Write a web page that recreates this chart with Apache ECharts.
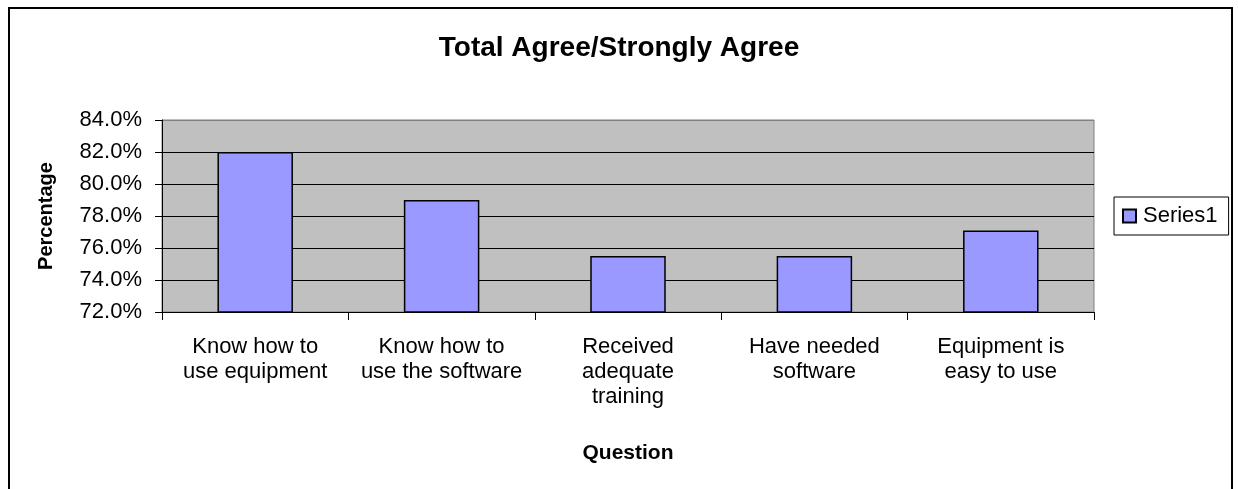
<!DOCTYPE html>
<html>
<head>
<meta charset="utf-8">
<script src="https://cdn.jsdelivr.net/npm/echarts@6/dist/echarts.min.js"></script>
<style>
html,body{margin:0;padding:0;background:#fff;}
#chart{width:1238px;height:489px;}
</style>
</head>
<body>
<div id="chart"></div>
<script>
const categories = ["Know how to\nuse equipment", "Know how to\nuse the software", "Received\nadequate\ntraining", "Have needed\nsoftware", "Equipment is\neasy to use"];
const series1 = [82.0, 79.0, 75.5, 75.5, 77.1];
const yTicks = {min: 72, max: 84, interval: 2};
const FONT = "'Liberation Sans', Arial, sans-serif";

const chart = echarts.init(document.getElementById('chart'), null, {renderer: 'canvas'});
chart.setOption({
  backgroundColor: '#ffffff',
  animation: false,
  textStyle: {fontFamily: FONT, color: '#000'},
  title: {
    text: 'Total Agree/Strongly Agree',
    left: 'center',
    top: 29,
    textStyle: {fontFamily: FONT, fontSize: 28, fontWeight: 'bold', color: '#000'}
  },
  graphic: [{
    type: 'rect',
    shape: {x: 9, y: 8, width: 1223, height: 520},
    style: {fill: 'none', stroke: '#000', lineWidth: 2},
    silent: true
  }],
  legend: {
    data: ['Series1'],
    left: 1114,
    top: 197,
    orient: 'vertical',
    padding: [8, 11, 8, 8],
    itemWidth: 13,
    itemHeight: 13,
    itemGap: 5,
    borderColor: '#000',
    borderWidth: 1,
    backgroundColor: '#fff',
    icon: 'rect',
    textStyle: {fontFamily: FONT, fontSize: 22, color: '#000', padding: [0, 0, 0, 2]}
  },
  grid: {
    left: 162, right: 144, top: 120, bottom: 177,
    show: true, backgroundColor: '#c0c0c0', borderColor: '#808080', borderWidth: 1
  },
  xAxis: {
    type: 'category',
    data: categories,
    name: 'Question',
    nameLocation: 'middle',
    nameGap: 131,
    nameTextStyle: {fontFamily: FONT, fontSize: 21, fontWeight: 'bold', color: '#000'},
    axisLine: {lineStyle: {color: '#000', width: 1}},
    axisTick: {show: true, length: 8, lineStyle: {color: '#000'}},
    axisLabel: {fontFamily: FONT, fontSize: 22, color: '#000', lineHeight: 25, margin: 22, interval: 0}
  },
  yAxis: {
    type: 'value',
    min: yTicks.min, max: yTicks.max, interval: yTicks.interval,
    name: 'Percentage',
    nameLocation: 'middle',
    nameRotate: 90,
    nameGap: 106,
    nameTextStyle: {fontFamily: FONT, fontSize: 20, fontWeight: 'bold', color: '#000'},
    axisLine: {show: true, lineStyle: {color: '#000', width: 1}},
    axisTick: {show: true, length: 7, lineStyle: {color: '#000'}},
    axisLabel: {fontFamily: FONT, fontSize: 22, color: '#000', margin: 20,
      formatter: v => v.toFixed(1) + '%'},
    splitLine: {show: true, lineStyle: {color: ['#000','#000','#000','#000','#000','#000','#808080'], width: 1}}
  },
  series: [{
    name: 'Series1',
    type: 'bar',
    data: series1,
    barWidth: '40.5%',
    itemStyle: {color: '#9999ff', borderColor: '#000', borderWidth: 1.5}
  }]
});
</script>
</body>
</html>
